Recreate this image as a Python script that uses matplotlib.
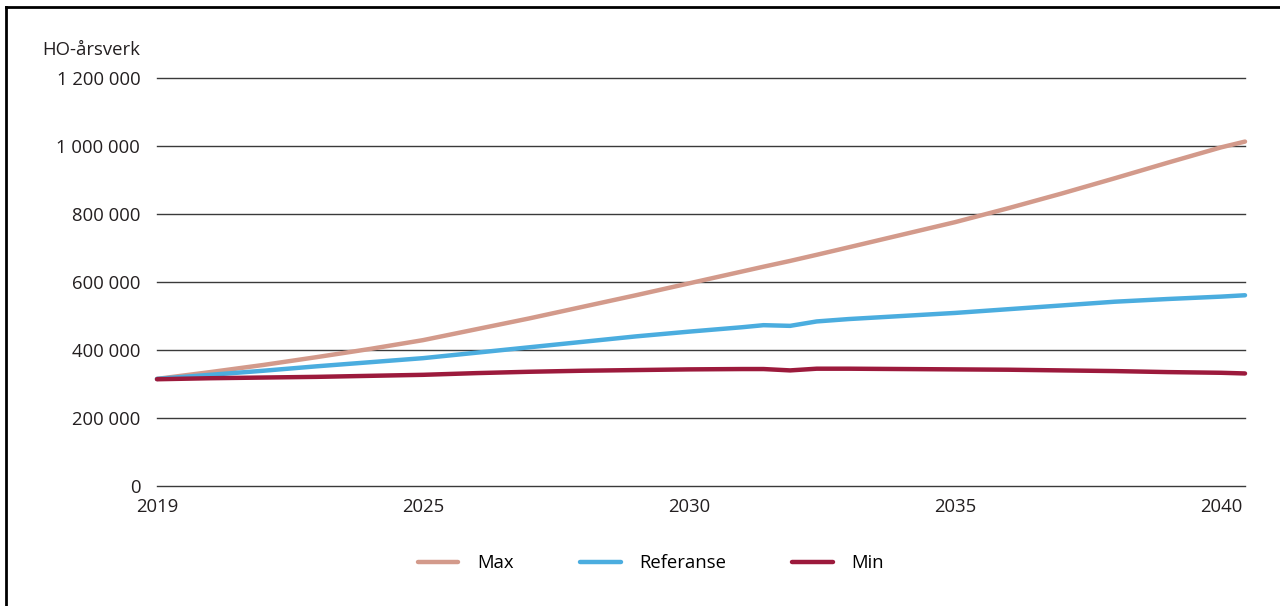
import matplotlib
matplotlib.use("Agg")
import matplotlib.pyplot as plt
from matplotlib.lines import Line2D
from matplotlib.ticker import FuncFormatter

plt.rcParams['font.family'] = ['Open Sans', 'DejaVu Sans']

# x positions (years along the axis); the first tick is labelled 2019
t = [2020, 2021, 2022, 2023, 2024, 2025, 2026, 2027, 2028, 2029, 2030, 2031,
     2031.4, 2031.9, 2032.4, 2033, 2034, 2035, 2036, 2037, 2038, 2039, 2040, 2040.45]

max_vals = [315, 335, 356, 379, 403, 429, 461, 493, 527, 561, 596, 631,
            645, 662, 680, 702, 739, 776, 817, 860, 905, 951, 996, 1013]
ref_vals = [315, 327, 339, 352, 364, 376, 392, 408, 424, 440, 454, 467,
            473, 471, 484, 491, 500, 509, 520, 531, 542, 550, 557, 561]
min_vals = [314, 317, 319, 321, 324, 327, 332, 336, 339, 341, 343, 344,
            344, 340, 345, 345, 344, 343, 342, 340, 338, 335, 333, 331]

series_names = ['Max', 'Referanse', 'Min']
colors = ['#D39A8B', '#4BADDF', '#9C1A3C']

xtick_pos = [2020, 2025, 2030, 2035, 2040]
xtick_labels = ['2019', '2025', '2030', '2035', '2040']
yticks = [0, 200000, 400000, 600000, 800000, 1000000, 1200000]
ylabel = 'HO-årsverk'

FS = 13.3
TXT = '#231f20'

fig = plt.figure(figsize=(12.8, 6.06), dpi=100)
W, H = 1280, 606
ax = fig.add_axes([157 / W, 1 - 486 / H, (1245 - 157) / W, (486 - 78) / H])

for name, vals, c in zip(series_names, [max_vals, ref_vals, min_vals], colors):
    ax.plot(t, [v * 1000 for v in vals], color=c, lw=3.2, label=name,
            solid_capstyle='round', solid_joinstyle='round', clip_on=False, zorder=3)

ax.set_xlim(2020, 2040.45)
ax.set_ylim(0, 1200000)
ax.set_yticks(yticks)
ax.yaxis.set_major_formatter(FuncFormatter(lambda v, p: f"{int(v):,}".replace(',', ' ')))
ax.set_xticks(xtick_pos)
ax.set_xticklabels(xtick_labels)
ax.tick_params(axis='both', length=0, labelsize=FS, colors=TXT)
ax.tick_params(axis='y', pad=12)
ax.tick_params(axis='x', pad=9)
ax.grid(False)
for yv in yticks:
    ax.axhline(yv, color='#3a3a3a', lw=1.0, zorder=1, clip_on=False)
for s in ax.spines.values():
    s.set_visible(False)

fig.text(140 / W, 1 - 50 / H, ylabel, ha='right', va='center', fontsize=FS, color=TXT)

fig.legend(loc='center', bbox_to_anchor=(651 / W, 1 - 563 / H), ncol=3, frameon=False,
           fontsize=FS, handlelength=2.2, handletextpad=1.0, columnspacing=3.6)

# outer frame (top and left edges)
fig.add_artist(Line2D([6 / W, 1.0], [1 - 7 / H, 1 - 7 / H], color='black', lw=2, transform=fig.transFigure))
fig.add_artist(Line2D([6 / W, 6 / W], [1 - 7 / H, 0], color='black', lw=2, transform=fig.transFigure))

fig.savefig('out.png', dpi=100)
